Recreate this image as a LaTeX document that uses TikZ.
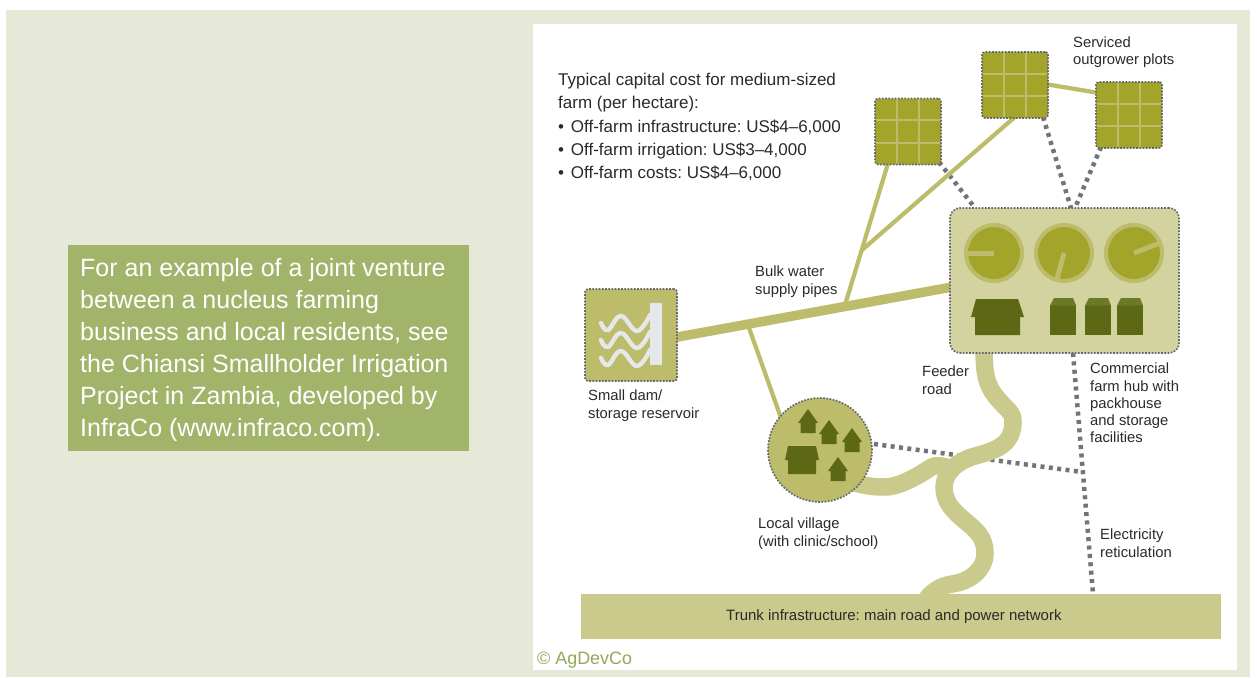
\documentclass[tikz,border=0pt]{standalone}
\usepackage{fontspec}
\setmainfont{Liberation Sans}
\usetikzlibrary{calc}
\frenchspacing
\definecolor{panelbg}{HTML}{E6E9D8}
\definecolor{boxgreen}{HTML}{A1B46A}
\definecolor{pipec}{HTML}{BCBC6A}
\definecolor{plotc}{HTML}{A3A52B}
\definecolor{darkc}{HTML}{5C6814}
\definecolor{roofc}{HTML}{6A7A28}
\definecolor{hubc}{HTML}{D3D3A0}
\definecolor{roadc}{HTML}{CBCA8D}
\definecolor{wavec}{HTML}{E6E7E8}
\definecolor{dotc}{HTML}{66666E}
\definecolor{elecc}{HTML}{73737A}
\definecolor{textc}{HTML}{2A2A2A}
\definecolor{copyc}{HTML}{93A85C}
\tikzset{
  dotframe/.style={draw=dotc,line width=1.7pt,dash pattern=on 1.7pt off 1.5pt},
  plotbox/.style={dotframe,fill=plotc,rounded corners=3pt,minimum width=66pt,minimum height=66pt,inner sep=0pt,
    path picture={
      \draw[pipec,line width=2pt,solid]
        ($(path picture bounding box.north west)!.33!(path picture bounding box.north east)$) -- ($(path picture bounding box.south west)!.33!(path picture bounding box.south east)$)
        ($(path picture bounding box.north west)!.67!(path picture bounding box.north east)$) -- ($(path picture bounding box.south west)!.67!(path picture bounding box.south east)$)
        ($(path picture bounding box.north west)!.33!(path picture bounding box.south west)$) -- ($(path picture bounding box.north east)!.33!(path picture bounding box.south east)$)
        ($(path picture bounding box.north west)!.67!(path picture bounding box.south west)$) -- ($(path picture bounding box.north east)!.67!(path picture bounding box.south east)$);
    }},
  pipethin/.style={draw=pipec,line width=4.2pt},
  pipethick/.style={draw=pipec,line width=9.5pt},
  elec/.style={draw=elecc,line width=4.5pt,dash pattern=on 4pt off 4.4pt},
  road/.style={draw=roadc,line width=17.5pt},
  label/.style={text=textc,font=\fontsize{14.8}{17.2}\selectfont,align=left,anchor=north west,inner sep=0pt},
  disc/.style={circle,fill=plotc,draw=pipec,line width=4pt,minimum size=56pt,inner sep=0pt},
  hand/.style={draw=pipec,line width=5pt},
  wave/.style={draw=wavec,line width=4.4pt,line cap=round},
}
\newcommand{\hutshape}[3]{% centre x, top y, scale
  \fill[darkc] (#1,#2) -- ++(10*#3,14*#3) -- ++(-2.5*#3,0) -- ++(0,10*#3) -- ++(-15*#3,0) -- ++(0,-10*#3) -- ++(-2.5*#3,0) -- cycle;}
\newcommand{\shedshape}[1]{% left x
  \fill[darkc] (#1,305) rectangle (#1+26,335);
  \fill[roofc] (#1,305.5) -- (#1+4,298) -- (#1+23,298) -- (#1+26,305.5) -- cycle;}
\begin{document}
\begin{tikzpicture}[x=1pt,y=-1pt]
\useasboundingbox (0,0) rectangle (1257,677);
\fill[white] (0,0) rectangle (1257,677);
\node[fill=panelbg,minimum width=1244pt,minimum height=667pt,inner sep=0pt,anchor=north west] (panel) at (6,10) {};
\node[fill=white,minimum width=704pt,minimum height=646pt,inner sep=0pt,anchor=north west] (sheet) at (533,24) {};
\node[fill=boxgreen,minimum width=401pt,minimum height=206pt,inner sep=0pt,anchor=north west] (callout) at (68,245) {};
\node[text=white,font=\fontsize{25}{32}\selectfont,align=left,anchor=north west,inner sep=0pt] (calloutText) at (80,258.5) {For an example of a joint venture\\between a nucleus farming\\business and local residents, see\\the Chiansi Smallholder Irrigation\\Project in Zambia, developed by\\InfraCo (www.infraco.com).};

% ports
\coordinate (pA1) at (939,162);  \coordinate (hA) at (975,208);
\coordinate (pB1) at (1043,117); \coordinate (hB) at (1071,208);
\coordinate (pC1) at (1101,147); \coordinate (hC) at (1075,208);
\coordinate (hD) at (1073,353);  \coordinate (tD) at (1093,594);
\coordinate (vE) at (874,444);   \coordinate (jE) at (1082,472);
\coordinate (damOut) at (672,338); \coordinate (hubIn) at (952,287);
\coordinate (jA) at (845,305);   \coordinate (pA2) at (889,160);
\coordinate (jB) at (862,250);   \coordinate (pB2) at (1016,116);
\coordinate (pB3) at (1045,84);  \coordinate (pC3) at (1099,93);
\coordinate (jV) at (748,325);   \coordinate (vV) at (781,418);

% electricity
\draw[elec] (pA1) -- (hA);
\draw[elec] (pB1) -- (hB);
\draw[elec] (pC1) -- (hC);
\draw[elec] (hD) -- (tD);
\draw[elec] (vE) -- (jE);

% pipes
\draw[pipethick] (damOut) -- (hubIn);
\draw[pipethin] (jA) -- (pA2);
\draw[pipethin] (jB) -- (pB2);
\draw[pipethin] (pB3) -- (pC3);
\draw[pipethin] (jV) -- (vV);

% roads
\coordinate (r0) at (984,345);
\coordinate (r1) at (997,398);
\coordinate (r2) at (1013,422);
\coordinate (r3) at (975,456);
\coordinate (r5) at (944,487);
\coordinate (r6) at (964,520);
\coordinate (r7) at (985,553);
\coordinate (r8) at (952,584);
\coordinate (r9) at (926,600);
\draw[road] (r0) .. controls +(0,25) and +(-12,-14) .. (r1)
  .. controls +(12,14) and +(0,-10) .. (r2)
  .. controls +(0,24) and +(18,-5) .. (r3)
  .. controls +(-18,5) and +(0,-14) .. (r5)
  .. controls +(0,14) and +(-12,-10) .. (r6)
  .. controls +(12,10) and +(0,-16) .. (r7)
  .. controls +(0,18) and +(16,-2) .. (r8)
  .. controls +(-14,2) and +(4,-6) .. (r9);
\coordinate (v0) at (855,483);
\coordinate (v1) at (885,487);
\coordinate (v3) at (930,468);
\coordinate (v4) at (952,468);
\draw[road] (v0) .. controls +(12,3) and +(-12,0) .. (v1)
  .. controls +(14,0) and +(-12,8) .. (v3)
  .. controls +(8,-5) and +(-10,-1) .. (v4);

% trunk
\node[fill=roadc,minimum width=640pt,minimum height=45pt,inner sep=0pt,anchor=north west] (trunk) at (581,594) {};
\node[text=textc,font=\fontsize{15}{17.2}\selectfont,inner sep=0pt,anchor=north west] (trunkText) at (726,609) {Trunk infrastructure: main road and power network};

% dam
\node[dotframe,fill=pipec,rounded corners=3pt,minimum width=92pt,minimum height=92pt,inner sep=0pt] (dam) at (631,335) {};
\fill[wavec] (650,303) rectangle (662,365);
\foreach \dy in {0,17,35}{
  \draw[wave,yshift=-\dy pt] plot[smooth,tension=.7] coordinates {(601,323) (608,330) (621,316) (637,331) (650,315)};
}

% plots
\node[plotbox] (plotA) at (908,131.5) {};
\node[plotbox] (plotB) at (1015,85) {};
\node[plotbox] (plotC) at (1129,115) {};

% hub
\node[dotframe,fill=hubc,rounded corners=10pt,minimum width=229pt,minimum height=145pt,inner sep=0pt] (hub) at (1064.5,280.5) {};
\node[disc] (d1) at (994,253) {};
\node[disc] (d2) at (1064,253) {};
\node[disc] (d3) at (1134,253) {};
\coordinate (h1) at (967,253);
\coordinate (h2) at (1057,279);
\coordinate (h3) at (1160,243);
\draw[hand] (d1.center) -- (h1);
\draw[hand] (d2.center) -- (h2);
\draw[hand] (d3.center) -- (h3);
\fill[darkc] (976,299) -- (1018,299) -- (1024,317) -- (1020,317) -- (1020,335) -- (975,335) -- (975,317) -- (971,317) -- cycle;
\shedshape{1050}
\shedshape{1085}
\shedshape{1117}

% village
\node[dotframe,circle,fill=pipec,minimum size=104pt,inner sep=0pt] (village) at (820,450) {};
\hutshape{808}{409}{1}
\hutshape{829}{420}{1}
\hutshape{852}{428}{1}
\hutshape{838}{457}{1}
\fill[darkc] (788,446) -- (816,446) -- (819,460) -- (816,460) -- (816,474) -- (788,474) -- (788,460) -- (785,460) -- cycle;

% labels
\node[label,font=\fontsize{17}{23.25}\selectfont] (costs) at (558,73) {Typical capital cost for medium-sized\\farm (per hectare):\\•\hspace{2pt} Off-farm infrastructure: US\$4–6,000\\•\hspace{2pt} Off-farm irrigation: US\$3–4,000\\•\hspace{2pt} Off-farm costs: US\$4–6,000};
\node[label] (lPlots) at (1073,36.5) {Serviced\\outgrower plots};
\node[label] (lPipes) at (755,266) {Bulk water\\supply pipes};
\node[label] (lDam) at (588,390) {Small dam/\\storage reservoir};
\node[label] (lRoad) at (922,366) {Feeder\\road};
\node[label] (lHub) at (1090,363) {Commercial\\farm hub with\\packhouse\\and storage\\facilities};
\node[label] (lVillage) at (758,518) {Local village\\(with clinic/school)};
\node[label] (lElec) at (1100,529) {Electricity\\reticulation};
\node[text=copyc,font=\fontsize{17.9}{20}\selectfont,anchor=north west,inner sep=0pt] (copyright) at (537,652) {© AgDevCo};
\end{tikzpicture}
\end{document}
